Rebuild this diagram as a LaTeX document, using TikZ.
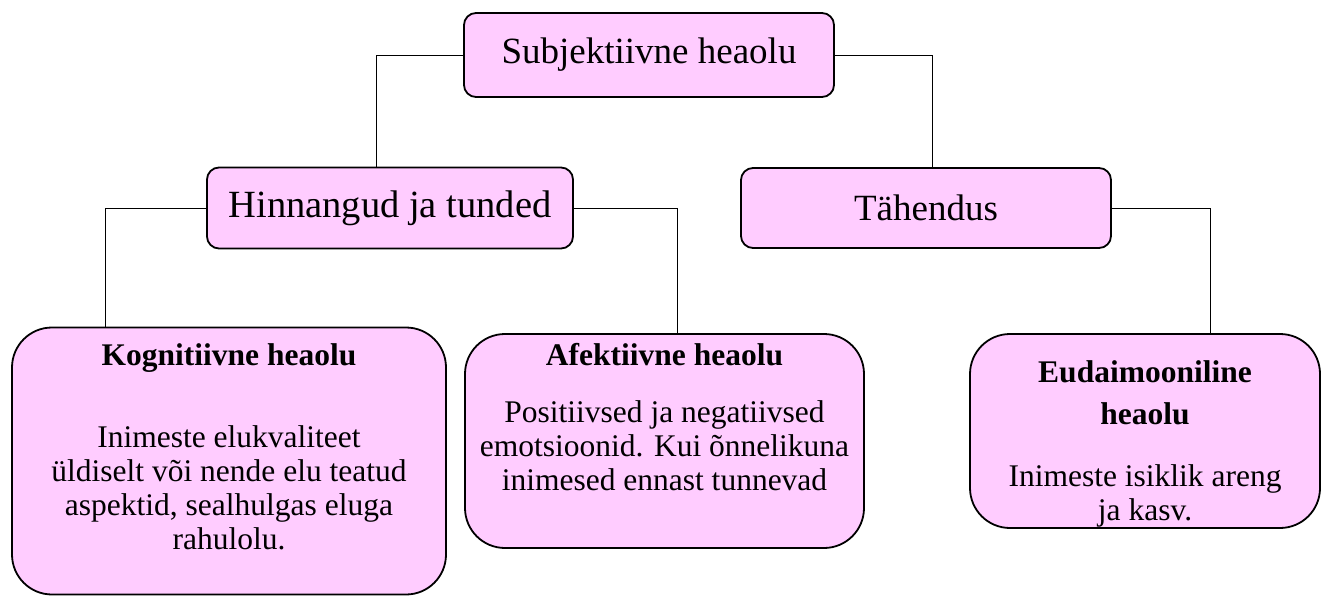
\documentclass[tikz,border=0pt]{standalone}
\usepackage{fontspec}
\setmainfont{Liberation Serif}
\definecolor{boxpink}{HTML}{FFCCFF}
\begin{document}
\begin{tikzpicture}[x=1pt,y=-1pt,
  box/.style={draw=black, line width=1.8pt, fill=boxpink, rounded corners=12pt, inner sep=0pt,
    font=\fontsize{37}{40}\selectfont},
  bigbox/.style={box, rounded corners=40pt},
  link/.style={draw=black, line width=0.9pt},
  body/.style={align=center, inner sep=0pt, anchor=north, font=\fontsize{31.5}{34}\selectfont}]
\useasboundingbox (0,0) rectangle (1322,596);

% boxes
\node[box, minimum width=370pt, minimum height=84pt] (top) at (649,55) {Subjektiivne heaolu};
\node[box, minimum width=366pt, minimum height=81pt, font=\fontsize{38.5}{40}\selectfont] (hin) at (390,208) {Hinnangud ja tunded};
\node[box, minimum width=370pt, minimum height=80pt] (tah) at (926,208) {Tähendus};
\node[bigbox, minimum width=434pt, minimum height=267pt] (kog) at (229,461) {};
\node[bigbox, minimum width=399pt, minimum height=214pt] (afe) at (664.5,441) {};
\node[bigbox, minimum width=350pt, minimum height=194pt] (eud) at (1145,431) {};

% texts
\node[body] (kogt) at (229,343) {\textbf{Kognitiivne heaolu}\\[48pt]
  Inimeste elukvaliteet\\ üldiselt või nende elu teatud\\ aspektid, sealhulgas eluga\\ rahulolu.};
\node[body] (afet) at (664.5,343) {\textbf{Afektiivne heaolu}\\[23pt]
  Positiivsed ja negatiivsed\\ emotsioonid. Kui õnnelikuna\\ inimesed ennast tunnevad};
\node[body] (eudt) at (1145,360) {\textbf{Eudaimooniline}\\[8pt] \textbf{heaolu}\\[28pt]
  Inimeste isiklik areng\\ ja kasv.};

% connector x positions
\coordinate (x1) at (376,0);
\coordinate (x2) at (932,0);
\coordinate (x3) at (105,0);
\coordinate (x4) at (677,0);
\coordinate (x5) at (1210,0);

\draw[link] (top.west) -| (x1 |- hin.north);
\draw[link] (top.east) -| (x2 |- tah.north);
\draw[link] (hin.west) -| (x3 |- kog.north);
\draw[link] (hin.east) -| (x4 |- afe.north);
\draw[link] (tah.east) -| (x5 |- eud.north);
\end{tikzpicture}
\end{document}
